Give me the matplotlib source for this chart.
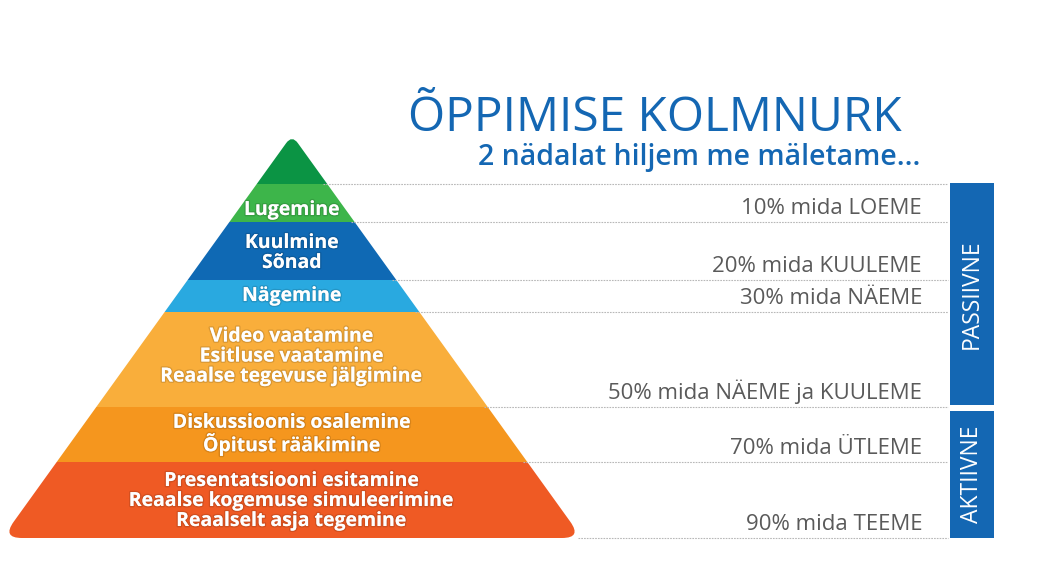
import matplotlib
matplotlib.use("Agg")
import matplotlib.pyplot as plt
from matplotlib.path import Path
from matplotlib.patches import PathPatch, Rectangle
import matplotlib.patheffects as pe
import numpy as np

# Pyramid levels, top to bottom
band_labels = ["", "Lugemine", "Kuulmine\nSõnad", "Nägemine",
               "Video vaatamine\nEsitluse vaatamine\nReaalse tegevuse jälgimine",
               "Diskussioonis osalemine\nÕpitust rääkimine",
               "Presentatsiooni esitamine\nReaalse kogemuse simuleerimine\nReaalselt asja tegemine"]
band_colors = ["#0b9444", "#3db54a", "#0f69b4", "#29a9e0", "#f9ae3b", "#f5961e", "#ef5a24"]
band_edges = [135, 184, 222, 280, 312, 407, 462, 538]  # pixel rows of band borders

retention = [10, 20, 30, 50, 70, 90]
retention_text = ["mida LOEME", "mida KUULEME", "mida NÄEME", "mida NÄEME ja KUULEME",
                  "mida ÜTLEME", "mida TEEME"]
groups = ["PASSIIVNE", "AKTIIVNE"]
group_span = [(0, 4), (4, 6)]  # which retention rows each group covers

title = "ÕPPIMISE KOLMNURK"
subtitle = "2 nädalat hiljem me mäletame..."

BLUE = "#1467b3"
GRAY = "#5a5a5a"
FONT = "Open Sans"

W, H = 1048, 564
apex_x, half_base = 292, 290
label_dy = [0, 7, 2, 0, -3, 0, 1]  # small nudges of the band captions


def edge_x(y, side):
    t = (y - band_edges[0]) / (band_edges[-1] - band_edges[0])
    return apex_x + side * half_base * t


def rounded_poly(pts, radii):
    # polygon with rounded corners (quadratic bezier at each vertex)
    verts, codes = [], []
    n = len(pts)
    for i in range(n):
        p = np.array(pts[i], float)
        a = np.array(pts[i - 1], float)
        b = np.array(pts[(i + 1) % n], float)
        r = radii[i]
        p1 = p + (a - p) / np.linalg.norm(a - p) * r
        p2 = p + (b - p) / np.linalg.norm(b - p) * r
        verts += [p1, p, p2]
        codes += [Path.MOVETO if i == 0 else Path.LINETO, Path.CURVE3, Path.CURVE3]
    verts.append(verts[0])
    codes.append(Path.CLOSEPOLY)
    return Path(verts, codes)


fig = plt.figure(figsize=(W / 100, H / 100), dpi=100)
ax = fig.add_axes([0, 0, 1, 1])
ax.set_xlim(0, W)
ax.set_ylim(H, 0)
ax.axis("off")

base = band_edges[-1]
tri = rounded_poly([(apex_x, band_edges[0]), (apex_x + half_base, base), (apex_x - half_base, base)],
                   [10, 20, 20])
clip = PathPatch(tri, facecolor="none", edgecolor="none")
ax.add_patch(clip)

shadow = [pe.withStroke(linewidth=2, foreground=(0, 0, 0, 0.12))]
for i, (lab, col) in enumerate(zip(band_labels, band_colors)):
    y0, y1 = band_edges[i], band_edges[i + 1]
    r = Rectangle((0, y0), W / 2 + 100, y1 - y0, facecolor=col, edgecolor="none")
    ax.add_patch(r)
    r.set_clip_path(clip)
    if lab:
        ax.text(apex_x, (y0 + y1) / 2 + label_dy[i], lab, ha="center", va="center",
                color="white", fontsize=14, fontweight="bold", family=FONT,
                linespacing=1.0, path_effects=shadow)

# dotted guide lines and retention labels
for y in band_edges[1:]:
    ax.plot([edge_x(y, 1) - 4, 948], [y, y], color="#b8b8b8", lw=0.8, ls=(0, (1.5, 1)))

for i, (v, t) in enumerate(zip(retention, retention_text)):
    y = band_edges[i + 2]
    ax.text(922, y - 8.5, f"{v}% {t}", ha="right", va="baseline", color=GRAY,
            fontsize=16, family=FONT)

# passive / active side boxes
for g, (a, b) in zip(groups, group_span):
    y0 = band_edges[a + 1] + (4 if a else -1)
    y1 = band_edges[b + 1] - (2 if b < 6 else 0)
    ax.add_patch(Rectangle((950, y0), 44, y1 - y0, facecolor=BLUE, edgecolor="none"))
    ax.text(972, (y0 + y1) / 2, g, rotation=90, ha="center", va="center", color="white",
            fontsize=16.5, family=FONT)

ax.text(902, 118, title, ha="right", va="center", color=BLUE, fontsize=34.5, family=FONT)
ax.text(920, 158, subtitle, ha="right", va="center", color=BLUE, fontsize=20.5,
        fontweight="semibold", family=FONT)

fig.savefig("out.png", dpi=100)
